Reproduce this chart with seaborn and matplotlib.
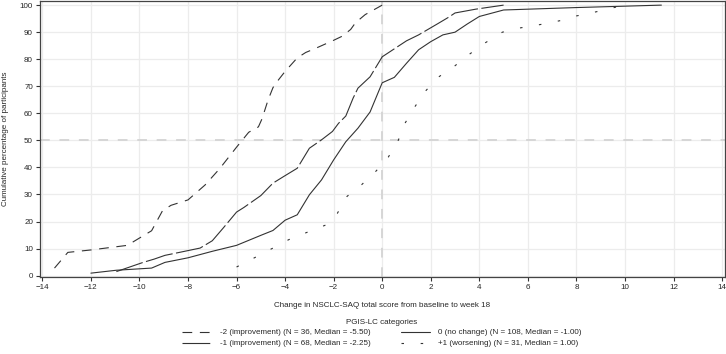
import matplotlib
matplotlib.use("agg")
import matplotlib.pyplot as plt
from matplotlib.lines import Line2D
import pandas as pd
import seaborn as sns

# cumulative distribution curves
x_m2 = [-13.5, -12.95, -12.0, -10.5, -9.5, -9.05, -8.7, -8.0, -7.3, -6.7, -6.0, -5.5, -5.1, -4.95,
        -4.7, -4.5, -4.35, -4.0, -3.5, -3.15, -2.75, -2.0, -1.65, -1.3, -1.1, -0.7, -0.4, 0.0]
y_m2 = [2.8, 8.6, 9.5, 11.2, 16.6, 24.0, 26.0, 28.0, 33.5, 39.5, 47.5, 53.0, 55.0, 58.0,
        65.0, 69.5, 71.5, 75.5, 80.5, 82.5, 84.0, 87.0, 88.5, 91.0, 93.5, 96.5, 98.0, 100.0]

x_m1 = [-10.95, -9.85, -9.4, -8.95, -8.3, -7.5, -7.0, -6.55, -6.0, -5.7, -5.0, -4.5, -4.05, -3.5,
        -3.25, -3.0, -2.5, -2.05, -1.8, -1.5, -1.2, -1.0, -0.5, -0.25, 0.0, 1.0, 1.5, 2.3, 2.75,
        3.0, 3.85, 5.0]
y_m1 = [1.5, 4.9, 6.1, 7.5, 8.7, 10.2, 12.9, 17.6, 23.5, 25.2, 29.6, 34.2, 36.7, 39.7,
        43.4, 47.1, 50.2, 53.3, 56.3, 59.0, 65.6, 69.3, 73.5, 77.2, 80.9, 86.8, 89.0, 93.2, 95.6,
        97.1, 98.5, 100.0]

x_0 = [-12.0, -10.95, -9.5, -8.95, -8.0, -7.0, -6.0, -5.0, -4.5, -4.0, -3.5, -3.0, -2.5, -2.0,
       -1.5, -1.0, -0.5, 0.0, 0.5, 1.0, 1.5, 2.0, 2.5, 3.0, 3.5, 4.0, 5.0, 8.0, 11.5]
y_0 = [0.93, 2.0, 2.8, 4.9, 6.6, 9.0, 11.2, 14.9, 16.7, 20.5, 22.5, 29.9, 35.4, 42.8,
       49.5, 54.5, 60.5, 71.3, 73.3, 78.5, 83.5, 86.5, 89.0, 90.0, 93.0, 95.8, 98.2, 99.1, 100.0]

x_p1 = [-6.0, -5.2, -4.5, -3.85, -3.1, -2.3, -1.85, -1.45, -0.85, -0.25, 0.25, 0.65, 0.95, 1.35,
        1.8, 2.3, 3.0, 3.6, 4.25, 4.95, 5.7, 6.5, 7.3, 8.0, 8.8, 9.6, 10.0]
y_p1 = [3.2, 6.9, 10.2, 13.3, 16.0, 18.8, 23.0, 29.3, 33.6, 38.7, 43.8, 49.8, 56.5, 62.5,
        68.4, 73.3, 77.6, 81.9, 86.1, 90.0, 91.6, 92.8, 94.2, 96.0, 97.5, 99.2, 100.0]

labels = ["-2 (improvement) (N = 36, Median = -5.50)",
          "-1 (improvement) (N = 68, Median = -2.25)",
          "0 (no change) (N = 108, Median = -1.00)",
          "+1 (worsening) (N = 31, Median = 1.00)"]

frames = []
for lab, xs, ys in zip(labels, [x_m2, x_m1, x_0, x_p1], [y_m2, y_m1, y_0, y_p1]):
    frames.append(pd.DataFrame({"change": xs, "pct": ys, "cat": lab}))
df = pd.concat(frames, ignore_index=True)

sns.set_style("ticks")
plt.rcParams["font.family"] = ["Liberation Sans", "DejaVu Sans"]
plt.rcParams["lines.scale_dashes"] = False

line_col = "#333333"
fs = 5.8
dash_map = {labels[0]: (7, 5.5), labels[1]: (20, 2.5), labels[2]: "", labels[3]: (1.8, 12)}

fig = plt.figure(figsize=(7.26, 3.54), dpi=100)
ax = fig.add_axes([0.055, 0.2175, 0.9436, 0.7795])

ax.grid(True, color="#ececec", lw=0.9)
ax.set_axisbelow(True)
ax.axhline(50, color="#d6d6d6", lw=1.4, dashes=(7, 7), zorder=1)
ax.axvline(0, color="#d6d6d6", lw=1.4, dashes=(7, 7), zorder=1)

sns.lineplot(data=df, x="change", y="pct", style="cat", dashes=dash_map, color=line_col,
             lw=0.8, sort=False, estimator=None, legend=False, ax=ax)

ax.set_xlim(-14.1, 14.12)
ax.set_ylim(-0.5, 101.5)
ax.set_xticks(range(-14, 15, 2))
ax.set_yticks(range(0, 101, 10))
ax.tick_params(labelsize=fs, length=3, width=0.8, color="#333333", pad=2)
for s in ax.spines.values():
    s.set_color("#444444")
    s.set_linewidth(0.9)

ax.set_xlabel("Change in NSCLC-SAQ total score from baseline to week 18", fontsize=fs, labelpad=8)
ax.set_ylabel("Cumulative percentage of participants", fontsize=fs, labelpad=8)

handles = [Line2D([], [], color=line_col, lw=0.8) for l in labels]
for h, l in zip(handles, labels):
    if dash_map[l]:
        h.set_dashes(dash_map[l])
leg = fig.legend(handles, labels, loc="upper center", bbox_to_anchor=(382 / 726, 1 - 313 / 354),
                 ncol=2, fontsize=fs, title="PGIS-LC categories", title_fontsize=fs,
                 frameon=False, handlelength=3.7, handletextpad=1.0, columnspacing=3.7,
                 labelspacing=0.4, borderpad=0.2)

fig.savefig("out.png", dpi=100)
